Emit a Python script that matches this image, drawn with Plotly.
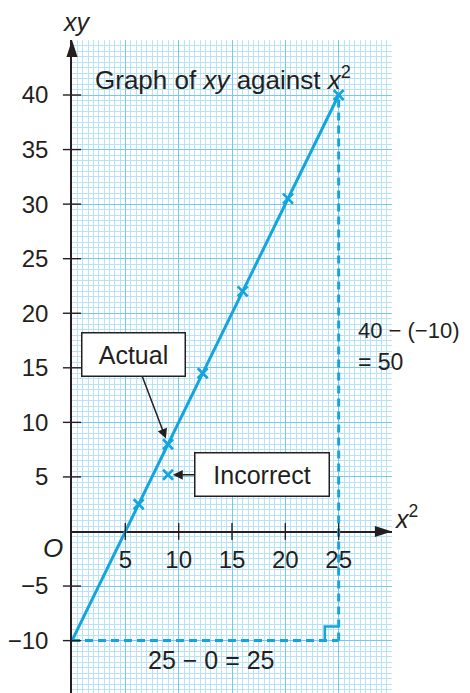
import plotly.graph_objects as go

# ---------------- data ----------------
x_sq = [6.25, 9, 12.25, 16, 20.25, 25]          # plotted points (x^2)
xy_vals = [2.5, 8, 14.5, 22, 30.5, 40]          # plotted points (xy)
incorrect_x = [9]
incorrect_y = [5.2]
line_x = [0, 25]                                # line of best fit ends
line_y = [-10, 40]
x_ticks = [5, 10, 15, 20, 25]
x_tick_labels = ["5", "10", "15", "20", "25"]
y_ticks = [-10, -5, 5, 10, 15, 20, 25, 30, 35, 40]
y_tick_labels = ["−10", "−5", "5", "10", "15", "20", "25", "30", "35", "40"]
x_range = [0, 30]
y_range = [-14.8, 45.04]
right_angle = 1.3

# ---------------- style ----------------
CYAN = "#12A5DE"
INK = "#231F20"
GRID_MAJOR = "#76C9EC"
GRID_MINOR = "#B8E3F6"
FONT = "Liberation Sans, Arial, sans-serif"
FS_TICK = 24
FS_TEXT = 25


def px(x):
    return (x - x_range[0]) / (x_range[1] - x_range[0])


def py(y):
    return (y - y_range[0]) / (y_range[1] - y_range[0])


fig = go.Figure()

x0, x1 = line_x
y0, y1 = line_y

# dashed construction lines
fig.add_trace(go.Scatter(x=[x1, x1], y=[y0, y1], mode="lines",
                         line=dict(color=CYAN, width=3, dash="8px,5px"),
                         hoverinfo="skip", showlegend=False))
fig.add_trace(go.Scatter(x=[x0, x1], y=[y0, y0], mode="lines",
                         line=dict(color=CYAN, width=3, dash="8px,5px"),
                         hoverinfo="skip", showlegend=False))
# right-angle marker
fig.add_trace(go.Scatter(x=[x1, x1 - right_angle, x1 - right_angle],
                         y=[y0 + right_angle, y0 + right_angle, y0],
                         mode="lines", line=dict(color=CYAN, width=2.6),
                         hoverinfo="skip", showlegend=False))
# main line
fig.add_trace(go.Scatter(x=line_x, y=line_y, mode="lines",
                         line=dict(color=CYAN, width=3),
                         hoverinfo="skip", showlegend=False, cliponaxis=False))
# points
fig.add_trace(go.Scatter(x=x_sq, y=xy_vals, mode="markers",
                         marker=dict(symbol="x-thin", size=10,
                                     line=dict(color=CYAN, width=2.7)),
                         showlegend=False, cliponaxis=False))
fig.add_trace(go.Scatter(x=incorrect_x, y=incorrect_y, mode="markers",
                         marker=dict(symbol="x-thin", size=10,
                                     line=dict(color=CYAN, width=2.7)),
                         showlegend=False, cliponaxis=False))
# crossing tick marks
fig.add_trace(go.Scatter(x=[0] * len(y_ticks), y=y_ticks, mode="markers",
                         marker=dict(symbol="line-ew", size=13,
                                     line=dict(color=INK, width=1.4)),
                         hoverinfo="skip", showlegend=False, cliponaxis=False))
fig.add_trace(go.Scatter(x=x_ticks, y=[0] * len(x_ticks), mode="markers",
                         marker=dict(symbol="line-ns", size=12,
                                     line=dict(color=INK, width=1.4)),
                         hoverinfo="skip", showlegend=False, cliponaxis=False))
# arrow heads at the axis ends
fig.add_trace(go.Scatter(x=[0, x_range[1]], y=[y_range[1], 0], mode="markers",
                         marker=dict(symbol="arrow", size=18, angle=[0, 90],
                                     color=INK, line=dict(width=0)),
                         hoverinfo="skip", showlegend=False, cliponaxis=False))

pos = py(0)

# The page body has an 8px margin, so the figure is 8px smaller than the window
fig.update_layout(
    width=462, height=685,
    margin=dict(l=59, r=78, t=32, b=0),
    paper_bgcolor="white", plot_bgcolor="white",
    font=dict(family=FONT, size=FS_TEXT, color=INK),
    xaxis=dict(range=x_range, anchor="free", position=pos,
               tickvals=x_ticks, ticktext=x_tick_labels, ticks="",
               ticklabelstandoff=12,
               showgrid=True, gridcolor=GRID_MAJOR, gridwidth=1.3,
               dtick=5, tick0=0,
               minor=dict(dtick=0.5, tick0=0, showgrid=True,
                          gridcolor=GRID_MINOR, gridwidth=1),
               zeroline=False, showline=False, fixedrange=True,
               tickfont=dict(size=FS_TICK, color=INK)),
    yaxis=dict(range=y_range, tickvals=y_ticks, ticktext=y_tick_labels,
               ticks="", ticklabelstandoff=17,
               showgrid=True, gridcolor=GRID_MAJOR, gridwidth=1.3,
               minor=dict(dtick=0.5, tick0=0, showgrid=True,
                          gridcolor=GRID_MINOR, gridwidth=1),
               zeroline=True, zerolinecolor=INK, zerolinewidth=1.6,
               showline=True, linecolor=INK, linewidth=1.6,
               fixedrange=True, tickfont=dict(size=FS_TICK, color=INK)),
)

ann = []
ann.append(dict(x=2.0, y=41.5, xref="x", yref="y", xanchor="left",
                yanchor="middle", showarrow=False,
                font=dict(size=26),
                text="Graph of <i>xy</i> against <i>x</i><sup>2</sup>"))
ann.append(dict(x=px(0.45), y=py(46.7), xref="paper", yref="paper",
                xanchor="center", yanchor="middle", showarrow=False,
                text="<i>xy</i>"))
ann.append(dict(x=px(30.1), y=py(0), xref="paper", yref="paper",
                xanchor="left", yanchor="bottom", showarrow=False, yshift=-4,
                text="<i>x</i><sup>2</sup>"))
ann.append(dict(x=px(-1.8), y=py(-1.5), xref="paper", yref="paper",
                xanchor="center", yanchor="middle", showarrow=False,
                text="<i>O</i>", font=dict(size=26)))
# Actual box with arrow to the point (9, 8)
ann.append(dict(x=x_sq[1], y=xy_vals[1], xref="x", yref="y",
                ax=5.8, ay=16.25, axref="x", ayref="y",
                text="Actual", bgcolor="white", bordercolor=INK,
                borderwidth=1.5, borderpad=0, width=102, height=42,
                showarrow=True, arrowhead=2, arrowsize=1.3, arrowwidth=1.5,
                arrowcolor=INK, standoff=6))
# Incorrect box with arrow to the incorrect point
ann.append(dict(x=incorrect_x[0], y=incorrect_y[0], xref="x", yref="y",
                ax=17.8, ay=incorrect_y[0], axref="x", ayref="y",
                text="Incorrect", bgcolor="white", bordercolor=INK,
                borderwidth=1.5, borderpad=0, width=133, height=42,
                showarrow=True, arrowhead=2, arrowsize=1.3, arrowwidth=1.5,
                arrowcolor=INK, standoff=5))
# differences
ann.append(dict(x=26.6, y=18.4, xref="x", yref="y", xanchor="left",
                yanchor="middle", showarrow=False, text="40 − (−10)",
                font=dict(size=22)))
ann.append(dict(x=26.6, y=15.5, xref="x", yref="y", xanchor="left",
                yanchor="middle", showarrow=False, text="= 50",
                font=dict(size=23)))
ann.append(dict(x=13.1, y=-11.8, xref="x", yref="y", xanchor="center",
                yanchor="middle", showarrow=False, text="25 − 0 = 25"))
fig.update_layout(annotations=ann)

fig.write_html("out.html")
